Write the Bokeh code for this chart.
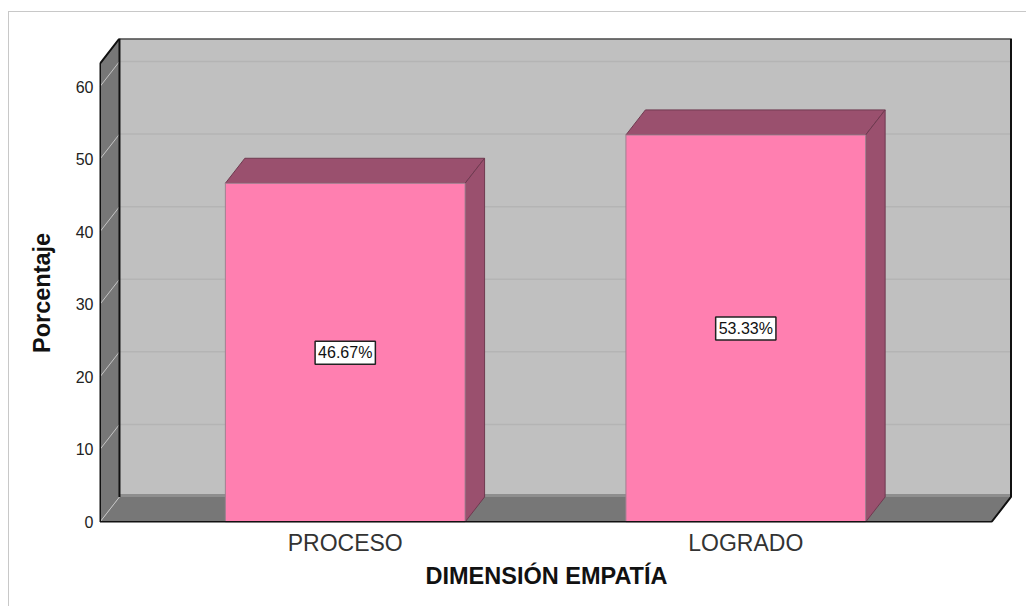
from bokeh.plotting import figure
from bokeh.embed import file_html
from bokeh.resources import INLINE
from bokeh.models import Range1d, FixedTicker, Title, LinearAxis
from bokeh.core.properties import value

categories = ["PROCESO", "LOGRADO"]
values = [46.67, 53.33]
labels = ["46.67%", "53.33%"]
y_ticks = [0, 10, 20, 30, 40, 50, 60]
x_title = "DIMENSIÓN EMPATÍA"
y_title = "Porcentaje"

OX, OY = 9, 12
W, H = 1027 - OX, 607 - OY
FL, FR, FT, FB = 99, 1012, 38, 521.5   # frame, page pixels
CX0 = 344            # page x of the first category
PX_Y = 7.25
PX_X = 401
DX = 19.5 / PX_X
DY = 25 / PX_Y
BAR_W = 240 / PX_X
CX = [1, 2]
X0 = 1 - (CX0 - 98.5) / PX_X
X1 = 1 + (991 - CX0) / PX_X
YTOP = (521 - 63) / PX_Y

p = figure(width=W, height=H, output_backend="svg", toolbar_location=None,
           x_range=Range1d(1 - (CX0 - FL + 1) / PX_X, 1 + (FR - CX0) / PX_X),
           y_range=Range1d(-(FB - 521) / PX_Y, (521 - FT) / PX_Y),
           min_border_left=FL - 1 - OX, min_border_right=W + OX - FR,
           min_border_top=FT - OY, min_border_bottom=int(H + OY - FB),
           margin=(OY, 0, 0, OX),
           styles={"box-shadow": "-1px -1px 0 0 #c8c8c8"})
p.grid.visible = False
p.outline_line_color = None
p.background_fill_color = "white"

FONT = "Liberation Sans"
BLACK = "#111111"
# back wall, left wall, floor
p.patch([X0 + DX, X1 + DX, X1 + DX, X0 + DX], [DY, DY, YTOP + DY, YTOP + DY],
        fill_color="#c0c0c0", line_color="#c8c8c8", line_width=1)
p.patch([X0, X0 + DX, X0 + DX, X0], [0, DY, YTOP + DY, YTOP],
        fill_color="#777777", line_color=None)
p.patch([X0, X1, X1 + DX, X0 + DX], [0, 0, DY, DY],
        fill_color="#777777", line_color=None)
# lighter strip where floor meets wall
p.segment([X0 + DX], [DY + 0.2], [X1 + DX], [DY + 0.2], line_color="#8e8e8e", line_width=3)
# gridlines
gy = [t for t in y_ticks]
p.segment([X0 + DX] * len(gy[1:]), [t + DY for t in gy[1:]], [X1 + DX] * len(gy[1:]), [t + DY for t in gy[1:]],
          line_color="#b4b4b4", line_width=1.5)
p.segment([X0] * len(gy), gy, [X0 + DX] * len(gy), [t + DY for t in gy],
          line_color="#c4c4c4", line_width=1)
# bars
for c, v in zip(CX, values):
    l, r = c - BAR_W / 2, c + BAR_W / 2
    p.patch([l, r, r + DX, l + DX], [v, v, v + DY, v + DY], fill_color="#9a506e",
            line_color="#6f3a50", line_width=1)
    p.patch([r, r + DX, r + DX, r], [0, DY, v + DY, v], fill_color="#9a506e",
            line_color="#6f3a50", line_width=1)
p.quad(left=[c - BAR_W / 2 for c in CX], right=[c + BAR_W / 2 for c in CX],
       bottom=[0, 0], top=values, fill_color="#ff7fb0", line_color="#a08090", line_width=1)
# frame edges
p.line([X0 + DX, X0 + DX], [DY, YTOP + DY], line_color=BLACK, line_width=2)
p.line([X0, X0, X0 + DX, X1 + DX, X1 + DX, X1, X0],
       [0, YTOP, YTOP + DY, YTOP + DY, DY, 0, 0], line_color=BLACK, line_width=2)
p.text(CX, [v / 2 for v in values], text=labels, text_align="center", text_baseline="middle",
       text_font=value(FONT), text_font_size="16px", text_color="#111111",
       background_fill_color="white", border_line_color="#222222", border_line_width=1.5, padding=3)

# axes
p.yaxis.ticker = FixedTicker(ticks=y_ticks)
p.xaxis.ticker = FixedTicker(ticks=CX)
p.xaxis.major_label_overrides = dict(zip(CX, categories))
p.axis.axis_line_color = None
p.axis.major_tick_line_color = None
p.axis.minor_tick_line_color = None
p.yaxis.major_label_text_font = FONT
p.yaxis.major_label_text_font_size = "16px"
p.yaxis.major_label_text_color = "#222222"
p.yaxis.major_label_standoff = 0
p.xaxis.major_label_text_font = FONT
p.xaxis.major_label_text_font_size = "23px"
p.xaxis.major_label_text_color = "#333333"
p.xaxis.major_label_standoff = 1

# empty axis used as a spacer between the category labels and the title
p.add_layout(LinearAxis(ticker=FixedTicker(ticks=[]), major_tick_out=15, major_tick_in=0,
                        major_tick_line_color=None, minor_tick_line_color=None,
                        axis_line_color=None), "below")

# axis titles as Title annotations, so they can sit off the frame's centre
p.add_layout(Title(text=x_title, align="left", offset=424 - 98, standoff=4, text_font=FONT,
                   text_font_style="bold", text_font_size="23.5px", text_color="#111111"), "below")
p.add_layout(Title(text=y_title, align="left", offset=521.5 - 352, standoff=35, text_font=FONT,
                   text_font_style="bold", text_font_size="23.5px", text_color="#111111"), "left")

open("out.html", "w").write(file_html(p, INLINE))
